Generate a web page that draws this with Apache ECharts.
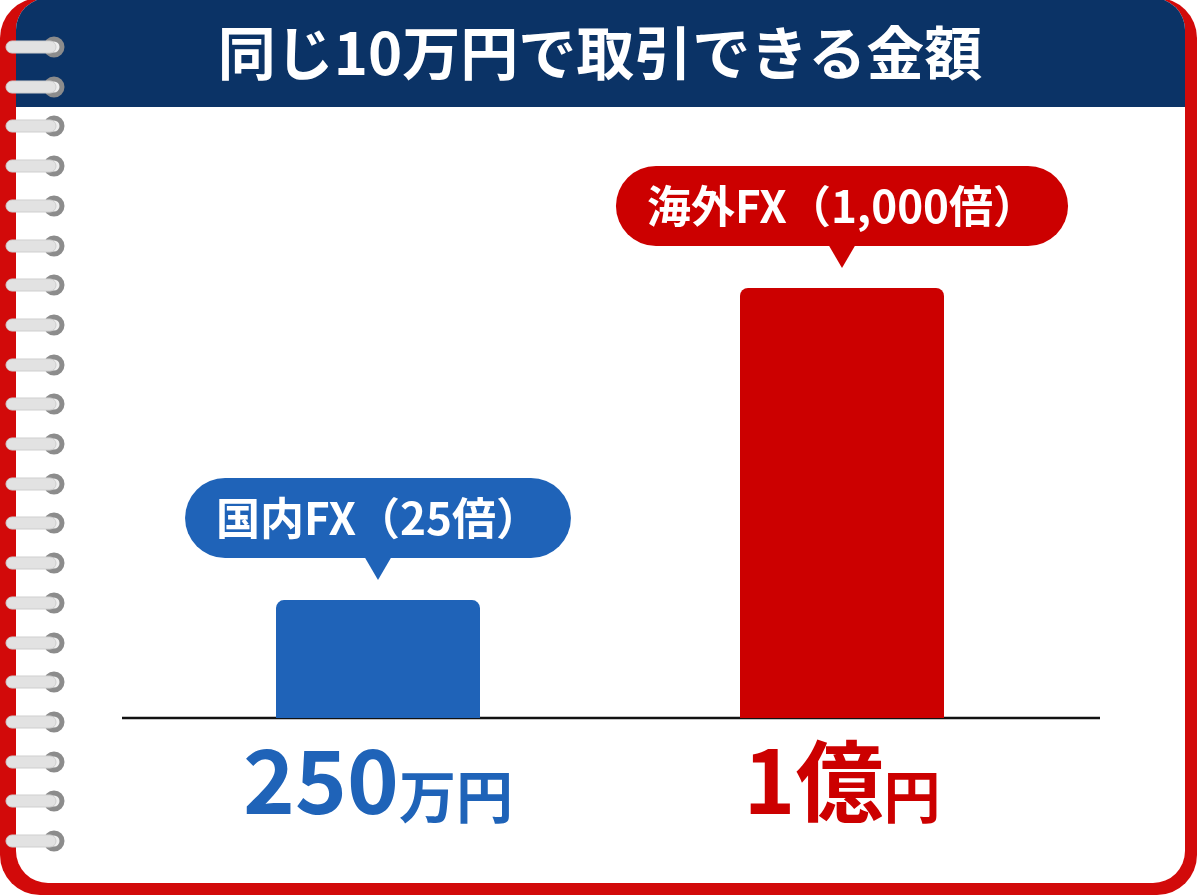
<!DOCTYPE html>
<html>
<head>
    <meta charset='utf-8'>
    <script src="https://cdn.jsdelivr.net/npm/echarts@6/dist/echarts.min.js"></script>
</head>
<body>
<style>
    html, body, #main {
        width: 100%;
        height: 100%;
        margin: 0;
        padding: 0;
        background: #fff;
    }
</style>
<div id="main"></div>
<script>
    // 同じ10万円（証拠金）で取引できる金額
    var titleText = '同じ10万円で取引できる金額';
    var categories = ['国内FX（25倍）', '海外FX（1,000倍）'];
    var leverage = [25, 1000];
    var amountMan = [250, 10000];          // 取引額（万円）
    var amountNum = ['250', '1億'];
    var amountUnit = ['万円', '円'];
    var barColors = ['#1f63b8', '#cc0000'];

    var FONT = '"Noto Sans CJK JP", "Noto Sans", sans-serif';
    var chart = echarts.init(document.getElementById('main'));

    // notebook frame + rings
    var graphics = [
        {type: 'rect', shape: {x: 0, y: -2, width: 1197, height: 897, r: 40}, style: {fill: '#d20a0a'}},
        {type: 'rect', shape: {x: 16, y: -2, width: 1169, height: 885, r: 32}, style: {fill: '#ffffff'}},
        {type: 'rect', shape: {x: 16, y: -2, width: 1169, height: 109, r: [32, 32, 0, 0]}, style: {fill: '#0b3366'}},
        {type: 'line', shape: {x1: 122, y1: 718, x2: 1100, y2: 718}, style: {stroke: '#111', lineWidth: 2.5}}
    ];
    for (var i = 0; i < 21; i++) {
        var cy = Math.round(47 + i * 39.7);
        graphics.push({type: 'circle', shape: {cx: 54, cy: cy, r: 8}, style: {fill: '#eeeeee', stroke: '#8c8c8c', lineWidth: 5}});
        graphics.push({type: 'rect', shape: {x: 6, y: cy - 6, width: 50, height: 12, r: 6}, style: {fill: '#e2e2e2', stroke: '#cfcfcf', lineWidth: 1}});
    }

    var rich = {};
    barColors.forEach(function (c, i) {
        rich['n' + i] = {color: c, fontSize: 88, fontWeight: 'bold', fontFamily: FONT, lineHeight: 96, verticalAlign: 'bottom'};
        rich['u' + i] = {color: c, fontSize: 57, fontWeight: 'bold', fontFamily: FONT, lineHeight: 96, verticalAlign: 'bottom'};
    });

    chart.setOption({
        animation: false,
        backgroundColor: '#fff',
        graphic: graphics,
        title: {
            text: titleText,
            left: 'center',
            top: 24,
            padding: 0,
            textStyle: {color: '#fff', fontSize: 58, fontWeight: 'bold', fontFamily: FONT}
        },
        grid: {left: 146, right: 126, top: 288, bottom: 178},
        xAxis: {
            type: 'category',
            data: categories,
            axisLine: {show: false},
            axisTick: {show: false},
            axisLabel: {
                margin: 11,
                formatter: function (val, idx) {
                    return '{n' + idx + '|' + amountNum[idx] + '}{u' + idx + '|' + amountUnit[idx] + '}';
                },
                rich: rich
            }
        },
        yAxis: {
            type: 'log',
            logBase: 10,
            min: 62,
            max: 10000,
            show: false
        },
        series: [{
            type: 'bar',
            barWidth: 204,
            data: amountMan.map(function (v, i) {
                return {
                    value: v,
                    itemStyle: {color: barColors[i]},
                    label: {backgroundColor: barColors[i]}
                };
            }),
            itemStyle: {borderRadius: [8, 8, 0, 0]},
            label: {
                show: true,
                position: 'top',
                distance: 42,
                formatter: function (p) {
                    return categories[p.dataIndex];
                },
                color: '#fff',
                fontSize: 44,
                fontWeight: 'bold',
                fontFamily: FONT,
                lineHeight: 48,
                padding: [16, 31],
                borderRadius: 40
            },
            markPoint: {
                symbol: 'triangle',
                symbolRotate: 180,
                symbolSize: [28, 24],
                symbolOffset: [0, -32],
                label: {show: false},
                data: amountMan.map(function (v, i) {
                    return {coord: [i, v], itemStyle: {color: barColors[i]}};
                })
            }
        }]
    });
</script>
</body>
</html>
